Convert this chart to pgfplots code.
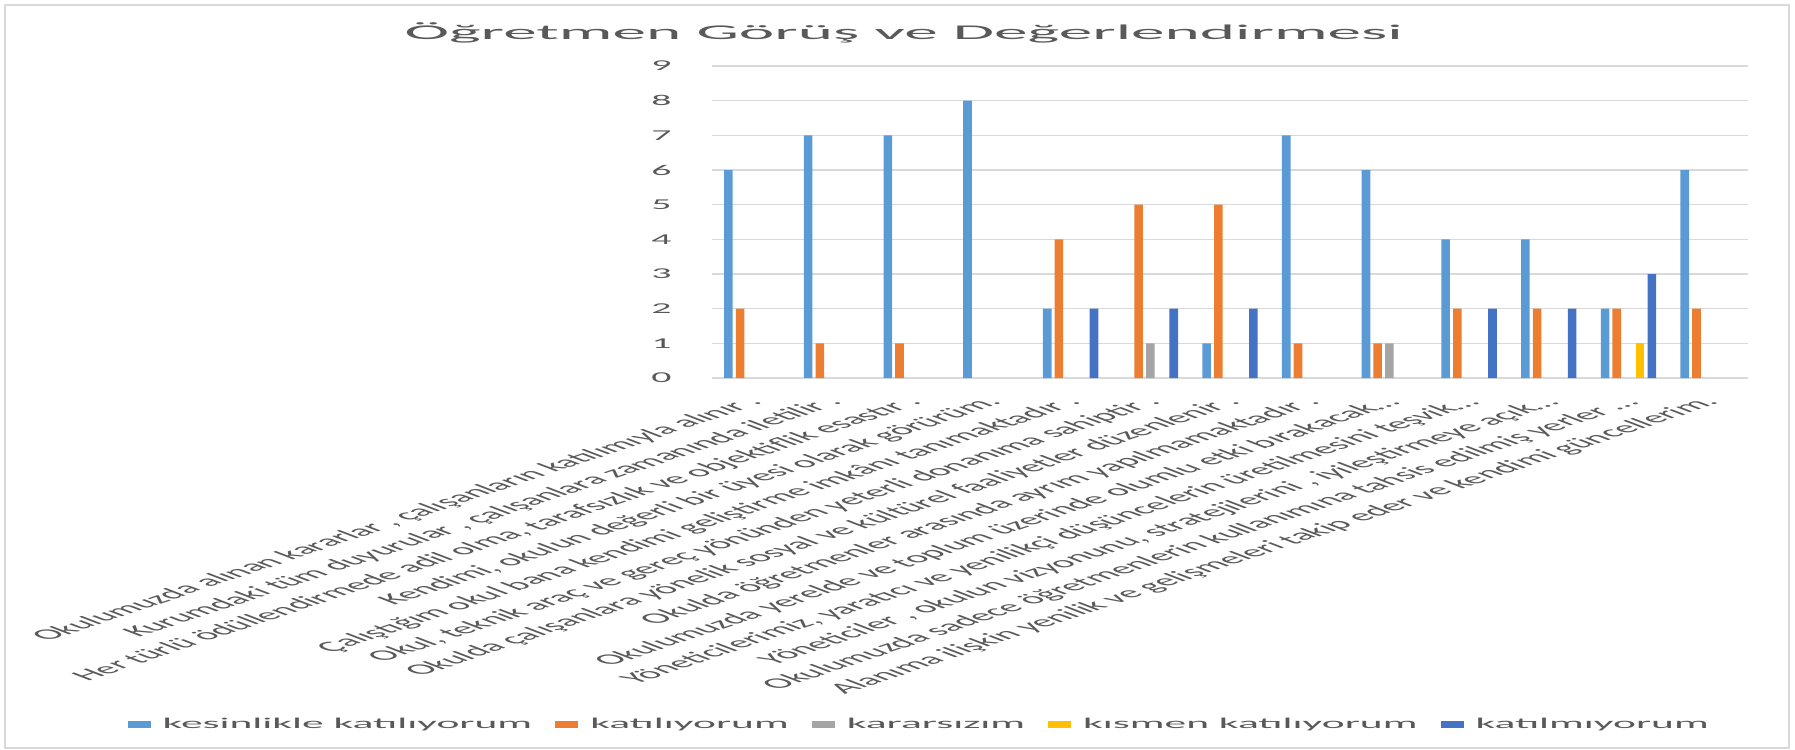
\documentclass[border=0pt]{standalone}
\usepackage{pgfplots}
\pgfplotsset{compat=1.18}
\usepackage{fontspec}
\setmainfont{Carlito}
\newfontfamily\titlefam{Carlito}[FakeStretch=3.2]
\newfontfamily\legfam{Carlito}[FakeStretch=2.9]
\newfontfamily\tickfam{Carlito}[FakeStretch=2.65]
\definecolor{c1}{HTML}{5B9BD5}
\definecolor{c2}{HTML}{ED7D31}
\definecolor{c3}{HTML}{A5A5A5}
\definecolor{c4}{HTML}{FFC000}
\definecolor{c5}{HTML}{4472C4}
\definecolor{txt}{HTML}{595959}
\definecolor{grd}{HTML}{D9D9D9}
\pgfplotsset{sq/.style={legend image code/.code={\fill[##1] (0pt,-1.75pt) rectangle (11.5pt,1.75pt);}}}
\begin{document}
\begin{tikzpicture}
\useasboundingbox (0,0) rectangle (897.5pt,375pt);
\draw[grd, line width=1pt] (2.5pt,1pt) rectangle (894.5pt,372.5pt);
\begin{axis}[
  at={(356pt,186pt)}, anchor=south west,
  scale only axis, width=518pt, height=156pt,
  ybar=1.55pt, bar width=4.3pt,
  xmin=-0.5, xmax=12.5, ymin=0, ymax=9,
  axis line style={draw=none},
  major tick length=0pt,
  ytick={0,...,9},
  ymajorgrids, grid style={grd, line width=0.7pt},
  xtick={0,...,12},
  xticklabels={
    {Okulumuzda alınan kararlar , çalışanların katılımıyla alınır .},
    {Kurumdaki tüm duyurular , çalışanlara zamanında iletilir .},
    {Her türlü ödüllendirmede adil olma, tarafsızlık ve objektiflik esastır .},
    {Kendimi, okulun değerli bir üyesi olarak görürüm.},
    {Çalıştığım okul bana kendimi geliştirme imkânı tanımaktadır .},
    {Okul, teknik araç ve gereç yönünden yeterli donanıma sahiptir .},
    {Okulda çalışanlara yönelik sosyal ve kültürel faaliyetler düzenlenir .},
    {Okulda öğretmenler arasında ayrım yapılmamaktadır .},
    {Okulumuzda yerelde ve toplum üzerinde olumlu etki bırakacak…},
    {Yöneticilerimiz, yaratıcı ve yenilikçi düşüncelerin üretilmesini teşvik…},
    {Yöneticiler , okulun vizyonunu, stratejilerini , iyileştirmeye açık…},
    {Okulumuzda sadece öğretmenlerin kullanımına tahsis edilmiş yerler …},
    {Alanıma ilişkin yenilik ve gelişmeleri takip eder ve kendimi güncellerim.}},
  xticklabel style={font=\fontsize{7.45}{9}\selectfont, text=txt, anchor=east, inner sep=0pt, xshift=2.5pt, yshift=-11pt, xscale=2.8, rotate=43},
  yticklabel style={font=\tickfam\fontsize{7.5}{9}\selectfont, text=txt, anchor=east, inner sep=0pt, xshift=-20pt},
  /pgf/number format/assume math mode=true,
  title={Öğretmen Görüş ve Değerlendirmesi},
  title style={at={(0.185,1)}, anchor=base, yshift=7.5pt, font=\titlefam\fontsize{10.5}{12}\selectfont, text=txt},
  legend columns=5,
  legend style={at={(0.201,-1.112)}, anchor=center, draw=none, fill=none,
    font=\legfam\fontsize{7.5}{9}\selectfont, text=txt,
    /tikz/every odd column/.append style={column sep=4pt},
    /tikz/every even column/.append style={column sep=9.5pt}},
  clip=false,
]
\addplot[sq, fill=c1, draw=none] coordinates {(0,6)(1,7)(2,7)(3,8)(4,2)(6,1)(7,7)(8,6)(9,4)(10,4)(11,2)(12,6)};
\addplot[sq, fill=c2, draw=none] coordinates {(0,2)(1,1)(2,1)(4,4)(5,5)(6,5)(7,1)(8,1)(9,2)(10,2)(11,2)(12,2)};
\addplot[sq, fill=c3, draw=none] coordinates {(5,1)(8,1)};
\addplot[sq, fill=c4, draw=none] coordinates {(11,1)};
\addplot[sq, fill=c5, draw=none] coordinates {(4,2)(5,2)(6,2)(9,2)(10,2)(11,3)};
\legend{kesinlikle katılıyorum, katılıyorum, kararsızım, kısmen katılıyorum, katılmıyorum}
\end{axis}
\end{tikzpicture}
\end{document}
